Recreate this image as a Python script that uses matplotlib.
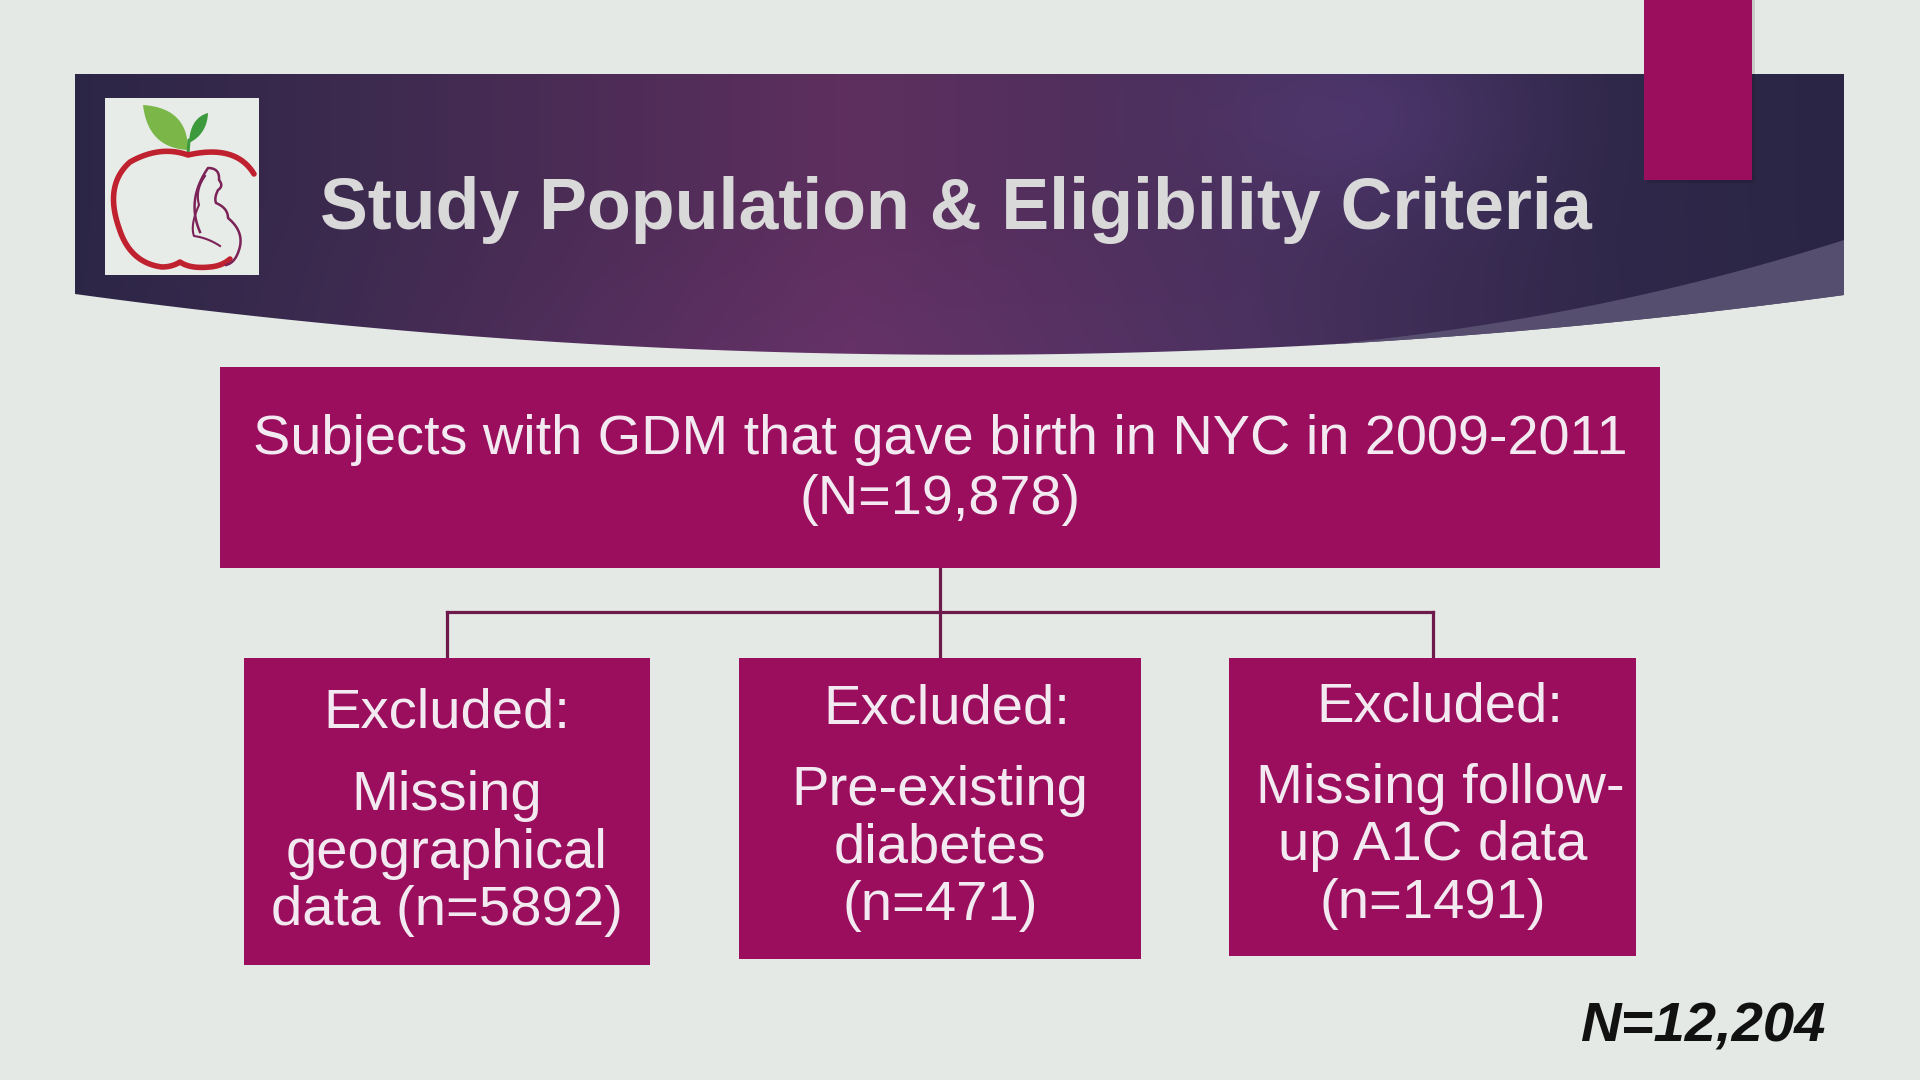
import matplotlib
matplotlib.use("Agg")
import matplotlib.pyplot as plt
import numpy as np
from matplotlib.colors import to_rgb
from matplotlib.patches import Polygon, Rectangle

# --- content ---
TITLE = "Study Population & Eligibility Criteria"
COHORT_TEXT = "Subjects with GDM that gave birth in NYC in 2009-2011"
TOTAL_N = 19878
EXCLUSION_HEADER = "Excluded:"
EXCLUSION_LINES = [
    ["Missing", "geographical", "data (n={})"],
    ["Pre-existing", "diabetes", "(n={})"],
    ["Missing follow-", "up A1C data", "(n={})"],
]
EXCLUSION_COUNTS = [5892, 471, 1491]
FINAL_N = 12204

# --- style ---
BG = "#e4e9e5"
MAGENTA = "#9b0e5e"
LINE_COLOR = "#6e1a4c"
BOX_TEXT = "#f3eaf1"
TITLE_COLOR = "#d9d9d9"
FONT = "Liberation Sans"


def qbez(p0, p1, p2, n=120):
    t = np.linspace(0, 1, n)[:, None]
    p0, p1, p2 = (np.asarray(p, float) for p in (p0, p1, p2))
    return (1 - t) ** 2 * p0 + 2 * (1 - t) * t * p1 + t ** 2 * p2


def draw_banner(ax):
    bottom = qbez((1844, 295), (960, 415), (75, 294))
    outline = np.vstack([[(75, 74), (1844, 74)], bottom])
    banner = Polygon(outline, closed=True, facecolor="none", edgecolor="none")
    ax.add_patch(banner)

    # horizontal purple gradient with a soft glow near the top
    x0, x1, y0, y1 = 75, 1845, 74, 360
    xs = np.arange(x0, x1)
    ys = np.arange(y0, y1)
    stops_x = [75, 330, 850, 1250, 1600, 1844]
    stops_c = ["#2c2646", "#3b2a4e", "#5e2f5f", "#47305c", "#30284a", "#2a2545"]
    rgb = np.array([to_rgb(c) for c in stops_c])
    row = np.stack([np.interp(xs, stops_x, rgb[:, k]) for k in range(3)], axis=-1)
    img = np.repeat(row[None, :, :], len(ys), axis=0)
    gx, gy = np.meshgrid(xs, ys)
    glow = np.exp(-(((gx - 1376) / 150.0) ** 2 + ((gy - 117) / 100.0) ** 2))
    img = img + glow[..., None] * np.array([0.05, 0.03, 0.08])
    lower = np.clip((gy - 200) / 150.0, 0, 1) * np.exp(-((gx - 850) / 500.0) ** 2)
    img = img + lower[..., None] * np.array([0.03, 0.01, 0.03])
    im = ax.imshow(np.clip(img, 0, 1), extent=(x0, x1, y1, y0), origin="upper",
                   aspect="auto", zorder=1, interpolation="bilinear")
    im.set_clip_path(banner)

    # lighter swoosh on the lower right
    t_start = 0.29
    curve = qbez((1844, 295), (960, 415), (75, 294), n=1001)
    start = curve[int(t_start * 1000)]
    upper = qbez(start, (1600, 318), (1844, 240))
    swoosh = np.vstack([upper, curve[: int(t_start * 1000) + 1]])
    ax.add_patch(Polygon(swoosh, closed=True, facecolor="#5b5373", edgecolor="none",
                         alpha=0.9, zorder=2))


def draw_logo(ax):
    ax.add_patch(Rectangle((105, 98), 154, 177, facecolor="#e8ece8", edgecolor="none", zorder=3))
    # leaves
    left_leaf = np.vstack([qbez((188, 150), (148, 148), (143, 105), 40),
                           qbez((143, 105), (188, 108), (188, 150), 40)])
    right_leaf = np.vstack([qbez((189, 143), (190, 118), (208, 113), 40),
                            qbez((208, 113), (207, 134), (189, 143), 40)])
    ax.add_patch(Polygon(left_leaf, closed=True, facecolor="#7ab648", edgecolor="none", zorder=4))
    ax.add_patch(Polygon(right_leaf, closed=True, facecolor="#3d9a3c", edgecolor="none", zorder=4))
    ax.plot([188, 189], [154, 140], color="#3d9a3c", lw=2.2, zorder=4, solid_capstyle="round")
    # apple outline
    apple = np.vstack([
        qbez((254, 174), (236, 144), (188, 155), 40),
        qbez((188, 155), (160, 145), (130, 162), 40),
        qbez((130, 162), (104, 185), (119, 228), 40),
        qbez((119, 228), (130, 263), (162, 267), 40),
        qbez((162, 267), (172, 267), (180, 262), 20),
        qbez((180, 262), (190, 269), (210, 267), 20),
        qbez((210, 267), (222, 266), (230, 259), 20),
    ])
    ax.plot(apple[:, 0], apple[:, 1], color="#c0212e", lw=4.0, zorder=4,
            solid_capstyle="round", solid_joinstyle="round")
    # woman figure
    purple = "#7b2257"
    head = np.vstack([
        qbez((200, 232), (186, 200), (208, 168), 40),
        qbez((208, 168), (220, 168), (219, 180), 20),
        qbez((219, 180), (224, 186), (218, 190), 20),
        qbez((218, 190), (214, 198), (216, 203), 20),
        qbez((216, 203), (228, 208), (228, 218), 20),
        qbez((228, 218), (245, 232), (239, 250), 30),
        qbez((239, 250), (235, 263), (226, 265), 20),
    ])
    ax.plot(head[:, 0], head[:, 1], color=purple, lw=1.8, zorder=5)
    back = np.vstack([
        qbez((205, 176), (195, 190), (199, 205), 30),
        qbez((199, 205), (190, 225), (194, 236), 30),
        qbez((194, 236), (208, 238), (220, 246), 30),
    ])
    ax.plot(back[:, 0], back[:, 1], color=purple, lw=1.5, zorder=5)


def main():
    fig = plt.figure(figsize=(19.2, 10.8), dpi=100)
    fig.patch.set_facecolor(BG)
    ax = fig.add_axes([0, 0, 1, 1])
    ax.set_xlim(0, 1920)
    ax.set_ylim(1080, 0)
    ax.axis("off")

    draw_banner(ax)
    draw_logo(ax)

    # accent block at the top right
    ax.add_patch(Rectangle((1647, 0), 108, 183, facecolor="#000000", alpha=0.12,
                           edgecolor="none", zorder=5))
    ax.add_patch(Rectangle((1644, 0), 108, 180, facecolor=MAGENTA, edgecolor="none", zorder=6))

    ax.text(320, 210, TITLE, fontsize=51.7, fontweight="bold", family=FONT,
            color=TITLE_COLOR, ha="left", va="center", zorder=6)

    # cohort box
    ax.add_patch(Rectangle((220, 367), 1440, 201, facecolor=MAGENTA, edgecolor="none", zorder=3))
    ax.text(940, 440, COHORT_TEXT, fontsize=40.2, family=FONT, color=BOX_TEXT,
            ha="center", va="center", zorder=4)
    ax.text(940, 500, f"(N={TOTAL_N:,})", fontsize=40.2, family=FONT, color=BOX_TEXT,
            ha="center", va="center", zorder=4)

    # connectors
    box_x = [(244, 650), (739, 1141), (1229, 1636)]
    box_bottom = [965, 959, 956]
    centers = [(a + b) / 2 for a, b in box_x]
    lw = 2.3
    ax.plot([940, 940], [568, 657], color=LINE_COLOR, lw=lw, zorder=2)
    ax.plot([centers[0], centers[2]], [612, 612], color=LINE_COLOR, lw=lw, zorder=2)
    for cx in (centers[0], centers[2]):
        ax.plot([cx, cx], [612, 657], color=LINE_COLOR, lw=lw, zorder=2)

    header_y = [714, 709, 707]
    header_dx = [0, 7, 7]
    body_y = [796, 791, 789]
    body_dx = [[0, 0, 0], [0, 0, 0], [8, 0, 0]]
    step = 57.5
    for i, ((xa, xb), lines, count) in enumerate(zip(box_x, EXCLUSION_LINES, EXCLUSION_COUNTS)):
        ax.add_patch(Rectangle((xa, 658), xb - xa, box_bottom[i] - 658,
                               facecolor=MAGENTA, edgecolor="none", zorder=3))
        cx = (xa + xb) / 2
        ax.text(cx + header_dx[i], header_y[i], EXCLUSION_HEADER, fontsize=40.5, family=FONT,
                color=BOX_TEXT, ha="center", va="center", zorder=4)
        for j, line in enumerate(lines):
            ax.text(cx + body_dx[i][j], body_y[i] + j * step, line.format(count),
                    fontsize=40.5, family=FONT, color=BOX_TEXT,
                    ha="center", va="center", zorder=4)

    ax.text(1825, 1028, f"N={FINAL_N:,}", fontsize=40.5, fontweight="bold", fontstyle="italic",
            family=FONT, color="#111111", ha="right", va="center", zorder=4)

    fig.savefig("out.png", dpi=100, facecolor=BG)
    plt.close(fig)


if __name__ == "__main__":
    main()
